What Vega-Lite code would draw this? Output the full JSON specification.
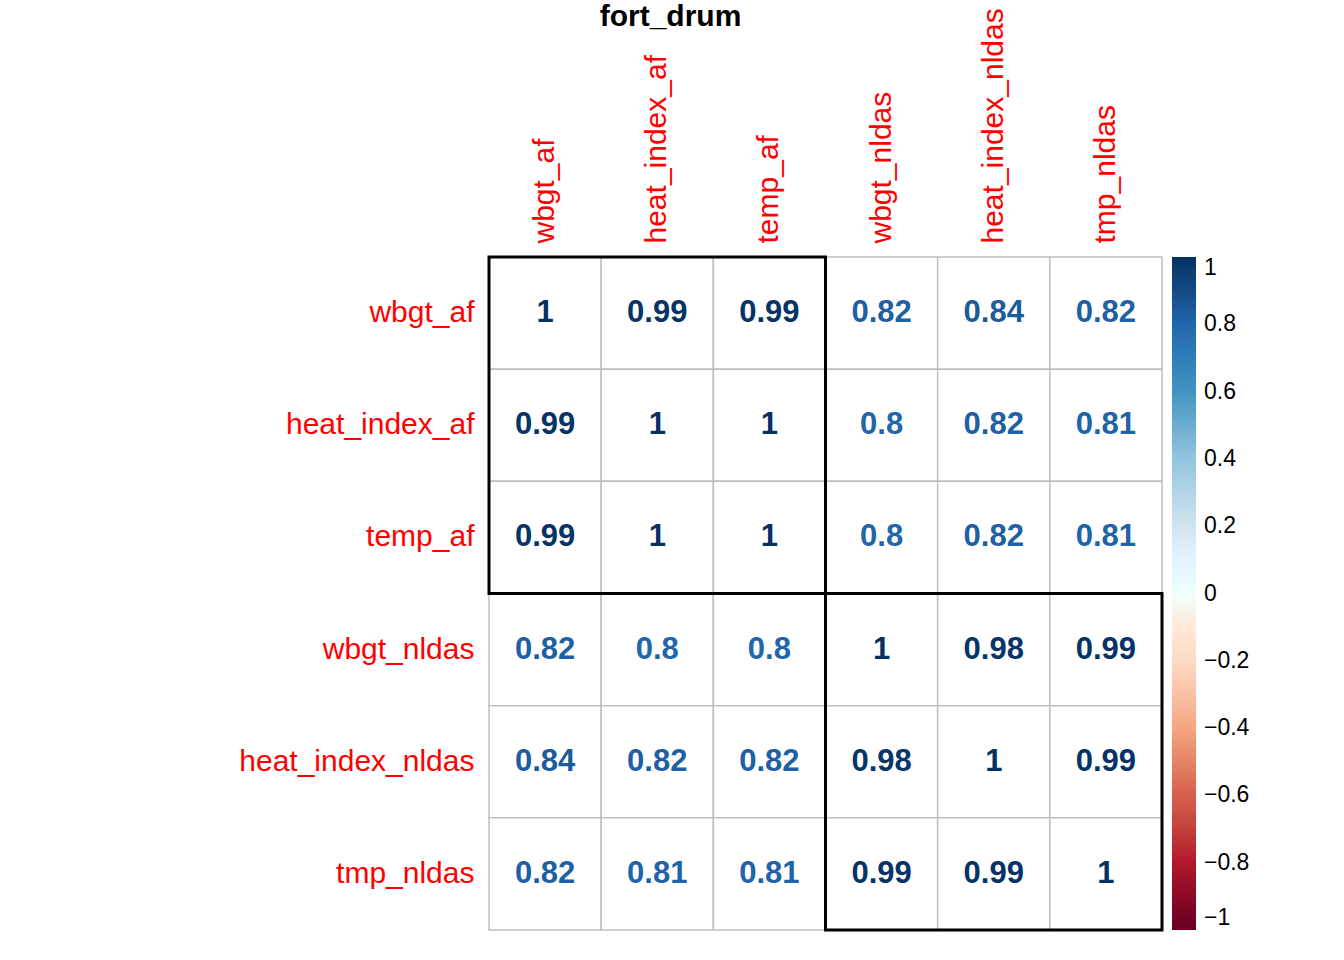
{
  "$schema": "https://vega.github.io/schema/vega-lite/v6.json",
  "width": 673,
  "height": 673,
  "autosize": "none",
  "padding": {"left": 489, "top": 257, "right": 182, "bottom": 30},
  "background": "white",
  "title": {"text": "fort_drum", "fontSize": 30, "fontWeight": "bold", "font": "Liberation Sans", "anchor": "middle", "frame": "group", "dx": -155, "offset": -24},
  "config": {"view": {"stroke": null}, "font": "Liberation Sans"},
  "datasets": {
    "cells": [
      {"row": "wbgt_af", "col": "wbgt_af", "v": 1},
      {"row": "wbgt_af", "col": "heat_index_af", "v": 0.99},
      {"row": "wbgt_af", "col": "temp_af", "v": 0.99},
      {"row": "wbgt_af", "col": "wbgt_nldas", "v": 0.82},
      {"row": "wbgt_af", "col": "heat_index_nldas", "v": 0.84},
      {"row": "wbgt_af", "col": "tmp_nldas", "v": 0.82},
      {"row": "heat_index_af", "col": "wbgt_af", "v": 0.99},
      {"row": "heat_index_af", "col": "heat_index_af", "v": 1},
      {"row": "heat_index_af", "col": "temp_af", "v": 1},
      {"row": "heat_index_af", "col": "wbgt_nldas", "v": 0.8},
      {"row": "heat_index_af", "col": "heat_index_nldas", "v": 0.82},
      {"row": "heat_index_af", "col": "tmp_nldas", "v": 0.81},
      {"row": "temp_af", "col": "wbgt_af", "v": 0.99},
      {"row": "temp_af", "col": "heat_index_af", "v": 1},
      {"row": "temp_af", "col": "temp_af", "v": 1},
      {"row": "temp_af", "col": "wbgt_nldas", "v": 0.8},
      {"row": "temp_af", "col": "heat_index_nldas", "v": 0.82},
      {"row": "temp_af", "col": "tmp_nldas", "v": 0.81},
      {"row": "wbgt_nldas", "col": "wbgt_af", "v": 0.82},
      {"row": "wbgt_nldas", "col": "heat_index_af", "v": 0.8},
      {"row": "wbgt_nldas", "col": "temp_af", "v": 0.8},
      {"row": "wbgt_nldas", "col": "wbgt_nldas", "v": 1},
      {"row": "wbgt_nldas", "col": "heat_index_nldas", "v": 0.98},
      {"row": "wbgt_nldas", "col": "tmp_nldas", "v": 0.99},
      {"row": "heat_index_nldas", "col": "wbgt_af", "v": 0.84},
      {"row": "heat_index_nldas", "col": "heat_index_af", "v": 0.82},
      {"row": "heat_index_nldas", "col": "temp_af", "v": 0.82},
      {"row": "heat_index_nldas", "col": "wbgt_nldas", "v": 0.98},
      {"row": "heat_index_nldas", "col": "heat_index_nldas", "v": 1},
      {"row": "heat_index_nldas", "col": "tmp_nldas", "v": 0.99},
      {"row": "tmp_nldas", "col": "wbgt_af", "v": 0.82},
      {"row": "tmp_nldas", "col": "heat_index_af", "v": 0.81},
      {"row": "tmp_nldas", "col": "temp_af", "v": 0.81},
      {"row": "tmp_nldas", "col": "wbgt_nldas", "v": 0.99},
      {"row": "tmp_nldas", "col": "heat_index_nldas", "v": 0.99},
      {"row": "tmp_nldas", "col": "tmp_nldas", "v": 1}
    ],
    "boxes": [
      {"c1": "wbgt_af", "c2": "temp_af"},
      {"c1": "wbgt_nldas", "c2": "tmp_nldas"}
    ]
  },
  "layer": [
    {
      "data": {"name": "cells"},
      "mark": {"type": "rect", "fill": "white", "stroke": "#bebebe", "strokeWidth": 1.5},
      "encoding": {
        "x": {"field": "col", "type": "nominal", "sort": null, "scale": {"paddingInner": 0, "paddingOuter": 0},
          "axis": {"orient": "top", "title": null, "labelAngle": -90, "labelColor": "red", "labelFontSize": 30, "ticks": false, "domain": false, "labelPadding": 14, "labelAlign": "left", "labelBaseline": "middle", "labelLimit": 0}},
        "y": {"field": "row", "type": "nominal", "sort": null, "scale": {"paddingInner": 0, "paddingOuter": 0},
          "axis": {"title": null, "labelColor": "red", "labelFontSize": 30, "ticks": false, "domain": false, "labelPadding": 15, "labelLimit": 0}}
      }
    },
    {
      "data": {"name": "cells"},
      "mark": {"type": "text", "fontSize": 31, "fontWeight": "bold"},
      "encoding": {
        "x": {"field": "col", "type": "nominal", "sort": null},
        "y": {"field": "row", "type": "nominal", "sort": null},
        "text": {"field": "v", "type": "quantitative", "format": ".2~f"},
        "color": {"field": "v", "type": "quantitative",
          "scale": {"domain": [-1, -0.8, -0.6, -0.4, -0.2, 0, 0.2, 0.4, 0.6, 0.8, 1],
            "range": ["#67001F", "#B2182B", "#D6604D", "#F4A582", "#FDDBC7", "#FFFFFF", "#D1E5F0", "#92C5DE", "#4393C3", "#2166AC", "#053061"]},
          "legend": {"title": null, "gradientLength": 673, "gradientThickness": 24, "values": [-1, -0.8, -0.6, -0.4, -0.2, 0, 0.2, 0.4, 0.6, 0.8, 1], "format": "~g", "labelFontSize": 23, "labelColor": "black", "offset": 10, "labelOffset": 8, "gradientStrokeColor": "#bebebe"}}
      }
    },
    {
      "data": {"name": "boxes"},
      "mark": {"type": "rect", "fill": null, "stroke": "black", "strokeWidth": 3},
      "encoding": {
        "x": {"field": "c1", "type": "nominal", "sort": null, "bandPosition": 0},
        "x2": {"field": "c2", "bandPosition": 1},
        "y": {"field": "c1", "type": "nominal", "sort": null, "bandPosition": 0},
        "y2": {"field": "c2", "bandPosition": 1}
      }
    }
  ]
}
